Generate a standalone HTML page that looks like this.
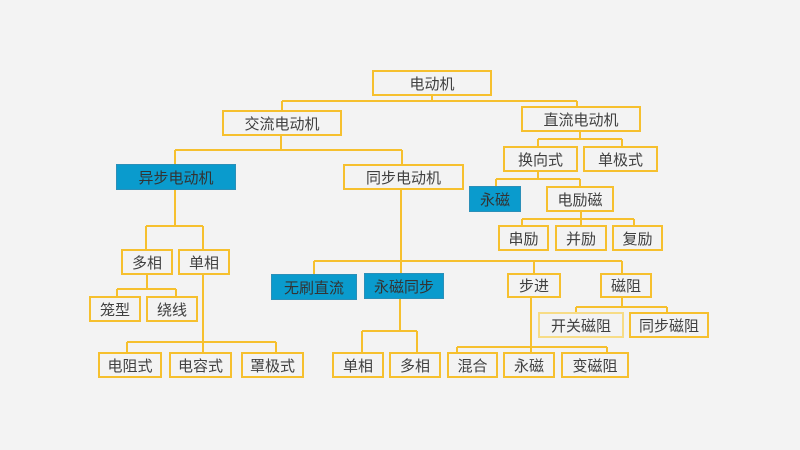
<!DOCTYPE html>
<html><head><meta charset="utf-8"><style>
body{margin:0;width:800px;height:450px;background:#f3f3f3;position:relative;overflow:hidden;font-family:"Liberation Sans","Noto Sans CJK SC",sans-serif;}
.b{position:absolute;box-sizing:border-box;border:2px solid #f6c02e;display:flex;align-items:center;justify-content:center;font-size:15px;color:#404040;background:#f3f3f3;}
.blue{background:#0a9bcd;border-color:#2b8fb8;border-width:1px;color:#333;}
.lt{border-color:#f7dc86;}
svg{position:absolute;left:0;top:0;}
</style></head><body>
<svg width="800" height="450"><g stroke="#f6c02e" stroke-width="2" fill="none">
<path d="M432 96V101M282 101H577M282 101V110M577 101V106"/>
<path d="M281 136V150M175 150H402M175 150V164M402 150V164"/>
<path d="M175 190V226M146 226H203M146 226V249M203 226V249"/>
<path d="M147 275V289M117 289H176M117 289V296M176 289V296"/>
<path d="M203 275V342M127 342H276M127 342V352M276 342V352M203 342V352"/>
<path d="M401 190V261M314 261H622M314 261V274M401 261V273M534 261V273M622 261V273"/>
<path d="M400 299V331M362 331H417M362 331V352M417 331V352"/>
<path d="M531 298V347M457 347H607M457 347V352M607 347V352M531 347V352"/>
<path d="M622 298V307M576 307H667M576 307V312M667 307V312"/>
<path d="M580 131V139M538 139H622M538 139V146M622 139V146"/>
<path d="M538 171V179M496 179H580M496 179V186M580 179V186"/>
<path d="M581 211V219M522 219H634M522 219V225M634 219V225M581 219V225"/>
</g></svg>
<div class="b" style="left:372px;top:70px;width:120px;height:26px">电动机</div>
<div class="b" style="left:222px;top:110px;width:120px;height:26px">交流电动机</div>
<div class="b" style="left:521px;top:106px;width:120px;height:26px">直流电动机</div>
<div class="b blue" style="left:116px;top:164px;width:120px;height:26px">异步电动机</div>
<div class="b" style="left:343px;top:164px;width:121px;height:26px">同步电动机</div>
<div class="b" style="left:503px;top:146px;width:75px;height:26px">换向式</div>
<div class="b" style="left:583px;top:146px;width:75px;height:26px">单极式</div>
<div class="b blue" style="left:469px;top:186px;width:52px;height:26px">永磁</div>
<div class="b" style="left:546px;top:186px;width:68px;height:26px">电励磁</div>
<div class="b" style="left:498px;top:225px;width:51px;height:26px">串励</div>
<div class="b" style="left:555px;top:225px;width:52px;height:26px">并励</div>
<div class="b" style="left:612px;top:225px;width:51px;height:26px">复励</div>
<div class="b" style="left:121px;top:249px;width:52px;height:26px">多相</div>
<div class="b" style="left:178px;top:249px;width:52px;height:26px">单相</div>
<div class="b" style="left:89px;top:296px;width:52px;height:26px">笼型</div>
<div class="b" style="left:146px;top:296px;width:52px;height:26px">绕线</div>
<div class="b" style="left:98px;top:352px;width:64px;height:26px">电阻式</div>
<div class="b" style="left:169px;top:352px;width:63px;height:26px">电容式</div>
<div class="b" style="left:241px;top:352px;width:63px;height:26px">罩极式</div>
<div class="b blue" style="left:271px;top:274px;width:86px;height:26px">无刷直流</div>
<div class="b blue" style="left:364px;top:273px;width:80px;height:26px">永磁同步</div>
<div class="b" style="left:332px;top:352px;width:52px;height:26px">单相</div>
<div class="b" style="left:389px;top:352px;width:52px;height:26px">多相</div>
<div class="b" style="left:507px;top:273px;width:54px;height:25px">步进</div>
<div class="b" style="left:600px;top:273px;width:52px;height:25px">磁阻</div>
<div class="b lt" style="left:538px;top:312px;width:86px;height:26px">开关磁阻</div>
<div class="b" style="left:629px;top:312px;width:80px;height:26px">同步磁阻</div>
<div class="b" style="left:447px;top:352px;width:51px;height:26px">混合</div>
<div class="b" style="left:503px;top:352px;width:52px;height:26px">永磁</div>
<div class="b" style="left:561px;top:352px;width:68px;height:26px">变磁阻</div>
</body></html>
